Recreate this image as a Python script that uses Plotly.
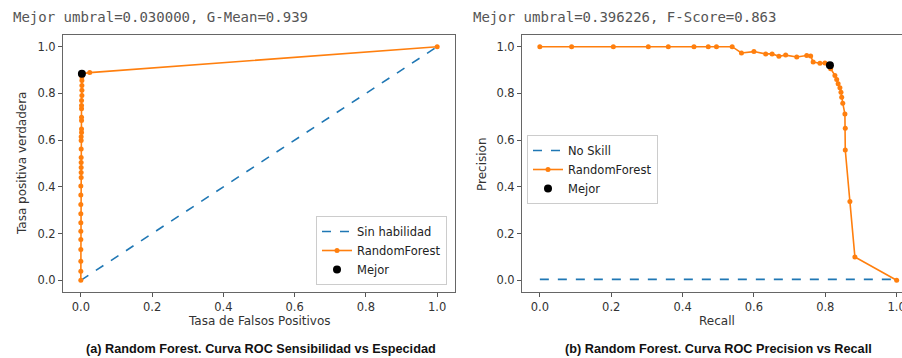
import plotly.graph_objects as go

# ---- data ----
roc_fpr = [0.0, 0.0, 0.0, 0.0, 0.0, 0.0, 0.0, 0.0, 0.0, 0.0, 0.0,
           0.001, 0.001, 0.001, 0.001, 0.001, 0.001, 0.001, 0.001,
           0.002, 0.002, 0.002, 0.002, 0.002, 0.002, 0.002,
           0.003, 0.003, 0.003, 0.003, 0.003, 0.003, 0.025, 1.0]
roc_tpr = [0.0, 0.039, 0.082, 0.132, 0.175, 0.21, 0.246, 0.285, 0.325, 0.365, 0.404,
           0.44, 0.461, 0.483, 0.504, 0.526, 0.562, 0.598, 0.615,
           0.633, 0.648, 0.684, 0.698, 0.734, 0.748, 0.77,
           0.791, 0.813, 0.834, 0.855, 0.87, 0.884, 0.889, 1.0]
roc_noskill_x = [0.0, 1.0]
roc_noskill_y = [0.0, 1.0]
roc_best_x = [0.003]
roc_best_y = [0.884]

pr_recall = [0.0, 0.089, 0.206, 0.304, 0.36, 0.432, 0.472, 0.495, 0.539,
             0.565, 0.6, 0.633, 0.651, 0.67, 0.689, 0.72, 0.748, 0.759, 0.766, 0.785, 0.799, 0.813,
             0.815, 0.827, 0.832, 0.836, 0.841, 0.844, 0.846, 0.849, 0.855, 0.856, 0.856, 0.869, 0.883, 1.0]
pr_precision = [1.0, 1.0, 1.0, 1.0, 1.0, 1.0, 1.0, 1.0, 1.0,
                0.973, 0.979, 0.969, 0.969, 0.959, 0.964, 0.956, 0.962, 0.96, 0.934, 0.929, 0.93, 0.92,
                0.906, 0.877, 0.859, 0.841, 0.824, 0.805, 0.784, 0.758, 0.712, 0.651, 0.558, 0.337, 0.1, 0.0]
pr_noskill_x = [0.0, 1.0]
pr_noskill_y = [0.004, 0.004]
pr_best_x = [0.813]
pr_best_y = [0.92]

ticks = [0.0, 0.2, 0.4, 0.6, 0.8, 1.0]
tick_text = ["0.0", "0.2", "0.4", "0.6", "0.8", "1.0"]

BLUE = "#1f77b4"
ORANGE = "#ff7f0e"
W, H = 902, 358

fig = go.Figure()

# left panel
fig.add_trace(go.Scatter(x=roc_noskill_x, y=roc_noskill_y, mode="lines", name="Sin habilidad",
                         line=dict(color=BLUE, dash="dash", width=1.6), xaxis="x", yaxis="y", legend="legend"))
fig.add_trace(go.Scatter(x=roc_fpr, y=roc_tpr, mode="lines+markers", name="RandomForest",
                         line=dict(color=ORANGE, width=1.6), marker=dict(color=ORANGE, size=5),
                         xaxis="x", yaxis="y", legend="legend"))
fig.add_trace(go.Scatter(x=roc_best_x, y=roc_best_y, mode="markers", name="Mejor",
                         marker=dict(color="black", size=8), xaxis="x", yaxis="y", legend="legend"))

# right panel
fig.add_trace(go.Scatter(x=pr_noskill_x, y=pr_noskill_y, mode="lines", name="No Skill",
                         line=dict(color=BLUE, dash="dash", width=1.6), xaxis="x2", yaxis="y2", legend="legend2"))
fig.add_trace(go.Scatter(x=pr_recall, y=pr_precision, mode="lines+markers", name="RandomForest",
                         line=dict(color=ORANGE, width=1.6), marker=dict(color=ORANGE, size=5),
                         xaxis="x2", yaxis="y2", legend="legend2"))
fig.add_trace(go.Scatter(x=pr_best_x, y=pr_best_y, mode="markers", name="Mejor",
                         marker=dict(color="black", size=8), xaxis="x2", yaxis="y2", legend="legend2"))

tickfont = dict(family="DejaVu Sans", size=11.5, color="#333")
ax_common = dict(showgrid=False, zeroline=False, showline=True, linecolor="#666", linewidth=1,
                 ticks="outside", ticklen=4, tickcolor="#555", tickfont=tickfont,
                 tickvals=ticks, ticktext=tick_text, ticklabeloverflow="allow", automargin=False)

y_dom = [1 - 292 / H, 1 - 35 / H]

fig.update_layout(
    width=W, height=H,
    margin=dict(l=0, r=0, t=0, b=0, autoexpand=False),
    paper_bgcolor="white", plot_bgcolor="white",
    showlegend=True,
    xaxis=dict(domain=[63 / W, 455 / W], range=[-0.05, 1.05], mirror=True, anchor="y", **ax_common),
    yaxis=dict(domain=y_dom, range=[-0.05, 1.05], mirror=True, anchor="x", **ax_common),
    xaxis2=dict(domain=[522 / W, 1.0], range=[-0.05, 1.015], mirror=True, anchor="y2", **ax_common),
    yaxis2=dict(domain=y_dom, range=[-0.05, 1.05], mirror=False, anchor="x2", **ax_common),
    legend=dict(x=447 / W, xanchor="right", y=1 - 285 / H, yanchor="bottom",
                bgcolor="rgba(255,255,255,0.8)", bordercolor="#ccc", borderwidth=1,
                font=dict(family="DejaVu Sans", size=11.5, color="#222"), tracegroupgap=0),
    legend2=dict(x=527 / W, xanchor="left", y=1 - 135 / H, yanchor="top",
                 bgcolor="rgba(255,255,255,0.8)", bordercolor="#ccc", borderwidth=1,
                 font=dict(family="DejaVu Sans", size=11.5, color="#222"), tracegroupgap=0),
)

ann = []
title_font = dict(family="DejaVu Sans Mono", size=14, color="#555")
ann.append(dict(text="Mejor umbral=0.030000, G-Mean=0.939", x=11 / W, y=1 - 17 / H,
                xref="paper", yref="paper", xanchor="left", yanchor="middle", showarrow=False, font=title_font))
ann.append(dict(text="Mejor umbral=0.396226, F-Score=0.863", x=471 / W, y=1 - 17 / H,
                xref="paper", yref="paper", xanchor="left", yanchor="middle", showarrow=False, font=title_font))
lab_font = dict(family="DejaVu Sans", size=12, color="#333")
ann.append(dict(text="Tasa de Falsos Positivos", x=259 / W, y=1 - 321 / H, xref="paper", yref="paper",
                xanchor="center", yanchor="middle", showarrow=False, font=lab_font))
ann.append(dict(text="Recall", x=717 / W, y=1 - 321 / H, xref="paper", yref="paper",
                xanchor="center", yanchor="middle", showarrow=False, font=lab_font))
ann.append(dict(text="Tasa positiva verdadera", x=22 / W, y=1 - 164 / H, xref="paper", yref="paper",
                xanchor="center", yanchor="middle", showarrow=False, textangle=-90, font=lab_font))
ann.append(dict(text="Precision", x=482 / W, y=1 - 164 / H, xref="paper", yref="paper",
                xanchor="center", yanchor="middle", showarrow=False, textangle=-90, font=lab_font))
cap_font = dict(family="Liberation Sans, Arial, sans-serif", size=12.7, color="#111")
ann.append(dict(text="<b>(a) Random Forest. Curva ROC Sensibilidad vs Especidad</b>", x=261 / W, y=1 - 349 / H,
                xref="paper", yref="paper", xanchor="center", yanchor="middle", showarrow=False, font=cap_font))
ann.append(dict(text="<b>(b) Random Forest. Curva ROC Precision vs Recall</b>", x=718 / W, y=1 - 349 / H,
                xref="paper", yref="paper", xanchor="center", yanchor="middle", showarrow=False, font=cap_font))
fig.update_layout(annotations=ann)

fig.write_html("out.html", config={"displayModeBar": False},
               post_script="document.body.style.margin='0';document.body.style.overflow='hidden';")
